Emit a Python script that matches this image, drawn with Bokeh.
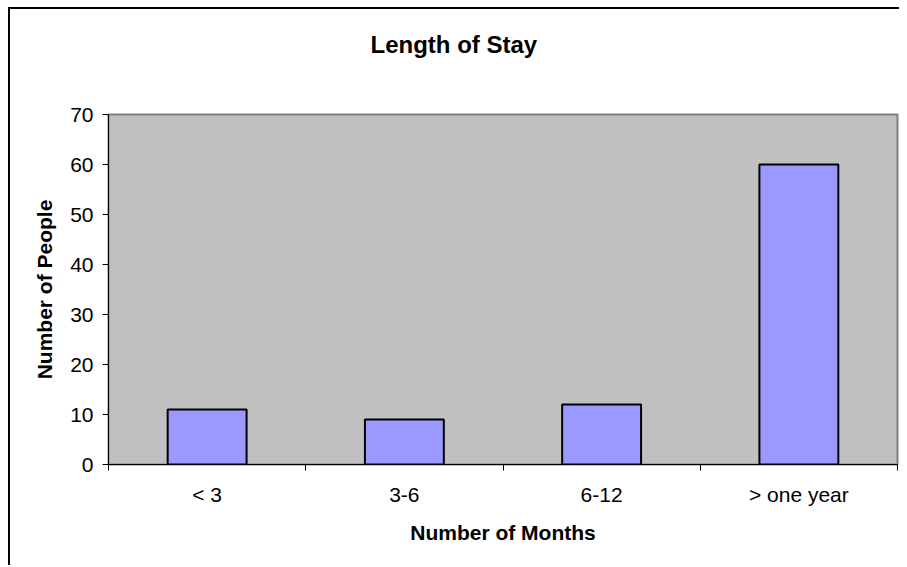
from bokeh.plotting import figure
from bokeh.models import Range1d, FixedTicker, LinearAxis, Title
from bokeh.embed import file_html
from bokeh.resources import INLINE

categories = ["< 3", "3-6", "6-12", "> one year"]
people = [11, 9, 12, 60]
y_ticks = [0, 10, 20, 30, 40, 50, 60, 70]

title_text = "Length of Stay"
x_label = "Number of Months"
y_label = "Number of People"

FONT = "Liberation Sans"

centers = [i + 0.5 for i in range(len(categories))]
bounds = [i for i in range(len(categories) + 1)]

p = figure(
    frame_width=789, frame_height=350,
    min_border_left=98, min_border_right=2,
    min_border_top=105, min_border_bottom=101,
    x_range=Range1d(0, len(categories)), y_range=Range1d(0, 70),
    output_backend="svg", toolbar_location=None,
    x_axis_type=None, y_axis_type=None,
    background_fill_color="#C0C0C0", border_fill_color="white",
)
p.title = None
p.styles = {"margin-left": "8px", "margin-top": "7px",
            "border-left": "2px solid black", "border-top": "2px solid black"}

spacer = Title(text=" ", text_font=FONT, text_font_size="24px", standoff=23)
p.add_layout(spacer, "above")
main_title = Title(text=title_text, align="left", offset=262,
                   text_font=FONT, text_font_size="24px", text_font_style="bold",
                   text_color="black", standoff=10)
p.add_layout(main_title, "above")

p.outline_line_color = "#808080"
p.outline_line_width = 2

xaxis = LinearAxis(
    ticker=FixedTicker(ticks=centers, minor_ticks=bounds),
    major_label_overrides={c: lab for c, lab in zip(centers, categories)},
    axis_label=x_label,
)
yaxis = LinearAxis(ticker=FixedTicker(ticks=y_ticks), axis_label=y_label)
p.add_layout(xaxis, "below")
p.add_layout(yaxis, "left")

for ax in (xaxis, yaxis):
    ax.axis_line_color = "black"
    ax.axis_line_width = 1
    ax.major_label_text_font = FONT
    ax.major_label_text_font_size = "21px"
    ax.major_label_text_color = "black"
    ax.axis_label_text_font = FONT
    ax.axis_label_text_font_size = "21px"
    ax.axis_label_text_font_style = "bold"
    ax.axis_label_text_color = "black"

xaxis.major_tick_out = 0
xaxis.major_tick_in = 0
xaxis.minor_tick_out = 6
xaxis.minor_tick_in = 0
xaxis.minor_tick_line_color = "black"
xaxis.major_label_standoff = 12
xaxis.axis_label_standoff = 12

yaxis.major_tick_out = 6
yaxis.major_tick_in = 0
yaxis.major_tick_line_color = "black"
yaxis.minor_tick_line_color = None
yaxis.major_label_standoff = 9
yaxis.axis_label_standoff = 11

p.xgrid.visible = False
p.ygrid.grid_line_color = "#303030"
p.ygrid.grid_line_width = 1
p.ygrid.ticker = yaxis.ticker

p.vbar(x=centers, top=people, width=0.4, bottom=0,
       fill_color="#9999FF", line_color="black", line_width=2)

open("out.html", "w").write(file_html(p, INLINE))
